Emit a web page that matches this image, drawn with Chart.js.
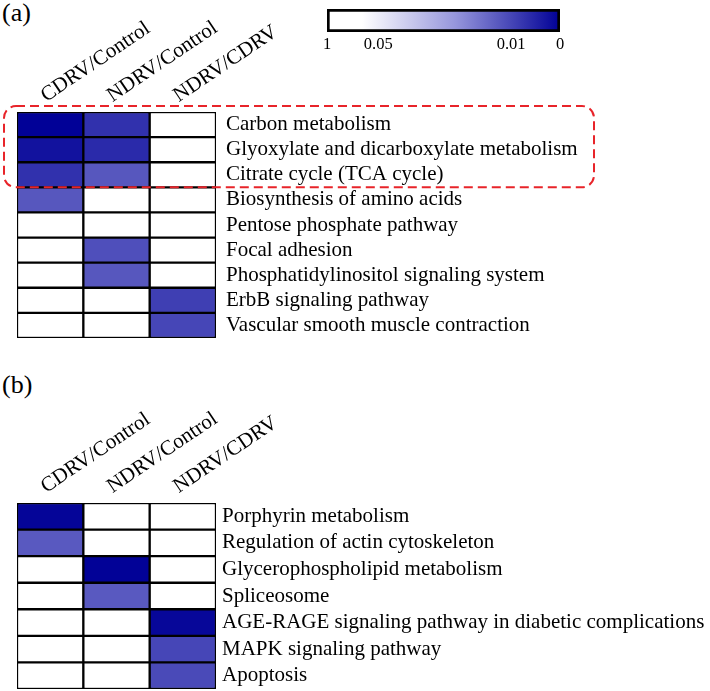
<!DOCTYPE html>
<html lang="en">
<head>
<meta charset="UTF-8">
<title>KEGG pathway enrichment heatmap</title>
<script src="https://cdn.jsdelivr.net/npm/chart.js@4"></script>
<style>
  body { margin: 0; background: #fff; }
  #wrap { position: relative; width: 710px; height: 691px; font-family: 'Liberation Serif', 'Times New Roman', serif; }
  canvas, .panel { position: absolute; }
  .panel { font-size: 26px; line-height: 26px; color: #000; }
</style>
</head>
<body>
<div id="wrap">
  <div class="panel" style="left:2px;top:0">(a)</div>
  <div class="panel" style="left:2px;top:372px">(b)</div>
  <canvas id="chartA" width="710" height="345" style="left:0;top:0"></canvas>
  <canvas id="scaleBar" width="290" height="60" style="left:300px;top:0"></canvas>
  <canvas id="chartB" width="710" height="331" style="left:0;top:360px"></canvas>
</div>
<script>
// comparisons (columns)
const comparisons = ['CDRV/Control', 'NDRV/Control', 'NDRV/CDRV'];

// panel (a)
const pathwaysA = [
  'Carbon metabolism',
  'Glyoxylate and dicarboxylate metabolism',
  'Citrate cycle (TCA cycle)',
  'Biosynthesis of amino acids',
  'Pentose phosphate pathway',
  'Focal adhesion',
  'Phosphatidylinositol signaling system',
  'ErbB signaling pathway',
  'Vascular smooth muscle contraction'
];
// p values, 1 = not significant (white)
const pA_cdrvControl = [0.0002, 0.0025, 0.0070, 0.0135, 1, 1, 1, 1, 1];
const pA_ndrvControl = [0.0070, 0.0060, 0.0135, 1, 1, 0.0120, 0.0135, 1, 1];
const pA_ndrvCdrv    = [1, 1, 1, 1, 1, 1, 1, 0.0090, 0.0100];

// panel (b)
const pathwaysB = [
  'Porphyrin metabolism',
  'Regulation of actin cytoskeleton',
  'Glycerophospholipid metabolism',
  'Spliceosome',
  'AGE-RAGE signaling pathway in diabetic complications',
  'MAPK signaling pathway',
  'Apoptosis'
];
const pB_cdrvControl = [0.0007, 0.0140, 1, 1, 1, 1, 1];
const pB_ndrvControl = [1, 1, 0.0003, 0.0140, 1, 1, 1];
const pB_ndrvCdrv    = [1, 1, 1, 1, 0.0010, 0.0100, 0.0108];

// colour bar
const cbTickValues = [1, 0.05, 0.01, 0];
const cbTickLabels = ['1', '0.05', '0.01', '0'];
const cbTickPos = [0, 0.22, 0.79, 1];
const cbStops = [[0, [255, 255, 255]], [0.15, [255, 255, 255]], [0.55, [150, 150, 220]], [1, [0, 0, 150]]];

Chart.defaults.font.family = "'Liberation Serif', 'Times New Roman', serif";
Chart.defaults.color = '#000';

function barPos(p) {
  for (let i = 0; i < cbTickValues.length - 1; i++) {
    const a = cbTickValues[i], b = cbTickValues[i + 1];
    if (p <= a && p >= b) {
      const t = (a - p) / (a - b);
      return cbTickPos[i] + t * (cbTickPos[i + 1] - cbTickPos[i]);
    }
  }
  return 0;
}

function colorAt(f) {
  for (let i = 0; i < cbStops.length - 1; i++) {
    const [f0, c0] = cbStops[i], [f1, c1] = cbStops[i + 1];
    if (f >= f0 && f <= f1) {
      const t = (f - f0) / (f1 - f0);
      const c = c0.map((v, k) => Math.round(v + t * (c1[k] - v)));
      return 'rgb(' + c.join(',') + ')';
    }
  }
  return 'rgb(255,255,255)';
}

const pColor = p => colorAt(barPos(p));

// red dashed box around the first three rows of (a)
const focusBox = {
  id: 'focusBox',
  afterDraw(chart) {
    const {ctx, chartArea, scales} = chart;
    const y = scales.y;
    const half = (y.getPixelForValue(1) - y.getPixelForValue(0)) / 2;
    const top = y.getPixelForValue(0) - half - 6;
    const bottom = y.getPixelForValue(2) + half;
    const left = chartArea.left - 13, right = 594;
    ctx.save();
    ctx.strokeStyle = '#e8242a';
    ctx.lineWidth = 2;
    ctx.setLineDash([9, 5]);
    ctx.beginPath();
    ctx.roundRect(left, top, right - left, bottom - top, 12);
    ctx.stroke();
    ctx.restore();
  }
};

function heatmap(id, pathways, columnsP, opts) {
  return new Chart(document.getElementById(id), {
    type: 'bar',
    data: {
      labels: pathways,
      datasets: columnsP.map((pv, i) => ({
        label: comparisons[i],
        xAxisID: 'x',
        data: pv.map(() => 1),
        backgroundColor: pv.map(pColor),
        borderColor: '#000',
        borderWidth: 1.5,
        borderSkipped: false,
        barPercentage: 1,
        categoryPercentage: 1
      }))
    },
    options: {
      indexAxis: 'y',
      responsive: false,
      animation: false,
      layout: { padding: { left: 17, right: 0, top: 0, bottom: opts.bottom } },
      plugins: { legend: { display: false }, tooltip: { enabled: false } },
      scales: {
        x: { stacked: true, min: 0, max: comparisons.length, display: false },
        cols: {
          type: 'category',
          labels: comparisons,
          position: 'top',
          offset: true,
          grid: { display: false, drawTicks: false },
          border: { display: false },
          ticks: { minRotation: 34, maxRotation: 34, autoSkip: false, padding: 4, labelOffset: 7, font: { size: 21 } },
          afterFit: s => { s.height = opts.top; }
        },
        y: {
          stacked: true,
          position: 'right',
          grid: { display: false, drawTicks: false },
          border: { display: false },
          ticks: { autoSkip: false, padding: opts.gap, font: { size: 21 } },
          afterFit: s => {
            s.width = 710 - 216;
            s.paddingTop = 0;
            s.paddingBottom = 0;
          }
        }
      }
    },
    plugins: opts.plugins || []
  });
}

heatmap('chartA', pathwaysA, [pA_cdrvControl, pA_ndrvControl, pA_ndrvCdrv],
  { top: 112, bottom: 7, gap: 10, plugins: [focusBox] });
heatmap('chartB', pathwaysB, [pB_cdrvControl, pB_ndrvControl, pB_ndrvCdrv],
  { top: 143, bottom: 2, gap: 6 });

new Chart(document.getElementById('scaleBar'), {
  type: 'bar',
  data: {
    labels: ['p'],
    datasets: [{
      data: [1],
      backgroundColor: c => {
        const a = c.chart.chartArea;
        if (!a) return '#fff';
        const g = c.chart.ctx.createLinearGradient(a.left, 0, a.right, 0);
        cbStops.forEach(([f, col]) => g.addColorStop(f, 'rgb(' + col.join(',') + ')'));
        return g;
      },
      borderColor: '#000',
      borderWidth: 3,
      borderSkipped: false,
      barPercentage: 1,
      categoryPercentage: 1
    }]
  },
  options: {
    indexAxis: 'y',
    responsive: false,
    animation: false,
    layout: { padding: { left: 27, right: 30, top: 9, bottom: 0 } },
    plugins: { legend: { display: false }, tooltip: { enabled: false } },
    scales: {
      x: {
        min: 0, max: 1,
        grid: { display: false, drawTicks: false },
        border: { display: false },
        afterBuildTicks: s => { s.ticks = cbTickPos.map(v => ({ value: v })); },
        ticks: { autoSkip: false, padding: 3, font: { size: 16.5 }, callback: (v, i) => cbTickLabels[i] },
        afterFit: s => { s.height = 28; }
      },
      y: { display: false }
    }
  }
});
</script>
</body>
</html>
